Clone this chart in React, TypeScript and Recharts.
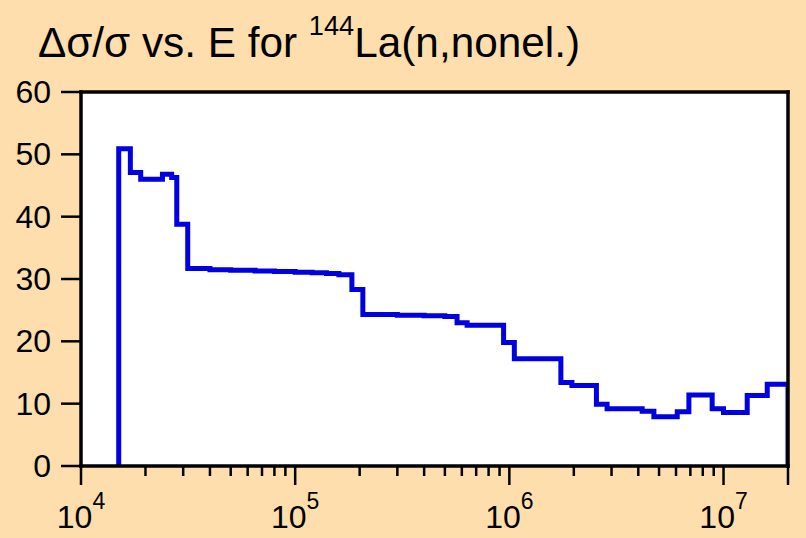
import React from 'react';
import { LineChart, Line, XAxis, YAxis, CartesianGrid } from 'recharts';

const energies = [
  1.5e4, 1.5e4, 1.7e4, 1.9e4, 2.4e4, 2.65e4, 2.8e4, 3.15e4, 4e4, 5e4, 6.5e4, 8e4,
  1e5, 1.2e5, 1.4e5, 1.6e5, 1.84e5, 2.07e5, 3e5, 4e5, 5e5, 5.7e5, 6.35e5, 9.4e5,
  1.055e6, 1.74e6, 1.96e6, 2.55e6, 2.86e6, 4.17e6, 4.73e6, 6.08e6, 6.89e6, 8.85e6,
  1.0e7, 1.29e7, 1.6e7, 2e7, 2e7,
];
const relErr = [
  0, 50.9, 47.1, 46.0, 46.8, 46.3, 38.8, 31.7, 31.5, 31.4, 31.3, 31.2,
  31.1, 31.0, 30.9, 30.7, 28.3, 24.3, 24.2, 24.1, 24.0, 23.0, 22.6, 19.8,
  17.2, 13.4, 12.9, 9.9, 9.2, 8.8, 7.9, 8.7, 11.4, 9.2,
  8.6, 11.3, 13.1, 13.1, 0,
];
const majorTicks = [1e4, 1e5, 1e6, 1e7];
const xTicks = [
  1e4, 2e4, 3e4, 4e4, 5e4, 6e4, 7e4, 8e4, 9e4,
  1e5, 2e5, 3e5, 4e5, 5e5, 6e5, 7e5, 8e5, 9e5,
  1e6, 2e6, 3e6, 4e6, 5e6, 6e6, 7e6, 8e6, 9e6,
  1e7, 2e7,
];
const yTicks = [0, 10, 20, 30, 40, 50, 60];

const data = energies.map((e, i) => ({ e, v: relErr[i] }));

const FONT = 'Liberation Sans, Arial, Helvetica, sans-serif';
const BG = '#ffdead';

const isLong = (v: number) => majorTicks.includes(v) || v === 2e7;

const BottomTick = (props: any) => {
  const { x, y, payload } = props;
  const v = payload.value;
  const len = isLong(v) ? 19 : 10;
  const exp = Math.round(Math.log10(v));
  return (
    <g>
      <line x1={x} y1={y} x2={x} y2={y + len} stroke="#000" strokeWidth={2.5} />
      {majorTicks.includes(v) && (
        <text x={x} y={y + 62} textAnchor="middle" fontFamily={FONT} fontSize={32} fill="#000">
          10<tspan dy={-19} fontSize={23}>{exp}</tspan>
        </text>
      )}
    </g>
  );
};

const TopTick = (props: any) => {
  const { x, y, payload } = props;
  const len = isLong(payload.value) ? 13 : 8;
  return <line x1={x} y1={y} x2={x} y2={y - len} stroke="#000" strokeWidth={2.5} />;
};

const LeftTick = (props: any) => {
  const { x, y, payload } = props;
  return (
    <g>
      <line x1={x} y1={y} x2={x - 20} y2={y} stroke="#000" strokeWidth={2.5} />
      <text x={x - 30} y={y + 11} textAnchor="end" fontFamily={FONT} fontSize={32} fill="#000">
        {payload.value}
      </text>
    </g>
  );
};

const RightTick = (props: any) => {
  const { x, y } = props;
  return <line x1={x} y1={y} x2={x + 20} y2={y} stroke="#000" strokeWidth={2.5} />;
};

const axisLine = { stroke: '#000', strokeWidth: 3.5, strokeLinecap: 'square' as const };

export default function App() {
  return (
    <div style={{ position: 'absolute', left: 0, top: 0, width: 806, height: 538, background: BG }}>
      <svg width={806} height={80} style={{ position: 'absolute', left: 0, top: 0 }}>
        <text x={38} y={57} fontFamily={FONT} fontSize={42} fill="#000" textLength={542} lengthAdjust="spacingAndGlyphs">
          Δσ/σ vs. E for <tspan dy={-22} fontSize={27}>144</tspan>
          <tspan dy={22}>La(n,nonel.)</tspan>
        </text>
      </svg>
      <LineChart
        width={806}
        height={538}
        data={data}
        margin={{ top: 0, right: 0, bottom: 0, left: 0 }}
        style={{ position: 'absolute', left: 0, top: 0 }}
      >
        <CartesianGrid horizontal={false} vertical={false} fill="#ffffff" />
        <XAxis
          dataKey="e"
          type="number"
          scale="log"
          domain={[1e4, 2e7]}
          allowDataOverflow
          ticks={xTicks}
          interval={0}
          height={72}
          tickSize={0}
          tickMargin={0}
          tickLine={false}
          axisLine={axisLine}
          tick={<BottomTick />}
        />
        <XAxis
          xAxisId="top"
          orientation="top"
          type="number"
          scale="log"
          domain={[1e4, 2e7]}
          allowDataOverflow
          ticks={xTicks}
          interval={0}
          height={92}
          tickSize={0}
          tickMargin={0}
          tickLine={false}
          axisLine={axisLine}
          tick={<TopTick />}
        />
        <YAxis
          type="number"
          domain={[0, 60]}
          ticks={yTicks}
          interval={0}
          width={81}
          tickSize={0}
          tickMargin={0}
          tickLine={false}
          axisLine={axisLine}
          tick={<LeftTick />}
        />
        <YAxis
          yAxisId="right"
          orientation="right"
          type="number"
          domain={[0, 60]}
          ticks={yTicks}
          interval={0}
          width={18}
          tickSize={0}
          tickMargin={0}
          tickLine={false}
          axisLine={axisLine}
          tick={<RightTick />}
        />
        <Line
          type="stepAfter"
          dataKey="v"
          stroke="#0000e0"
          strokeWidth={5}
          dot={false}
          activeDot={false}
          isAnimationActive={false}
          strokeLinejoin="miter"
          strokeLinecap="butt"
        />
      </LineChart>
    </div>
  );
}
